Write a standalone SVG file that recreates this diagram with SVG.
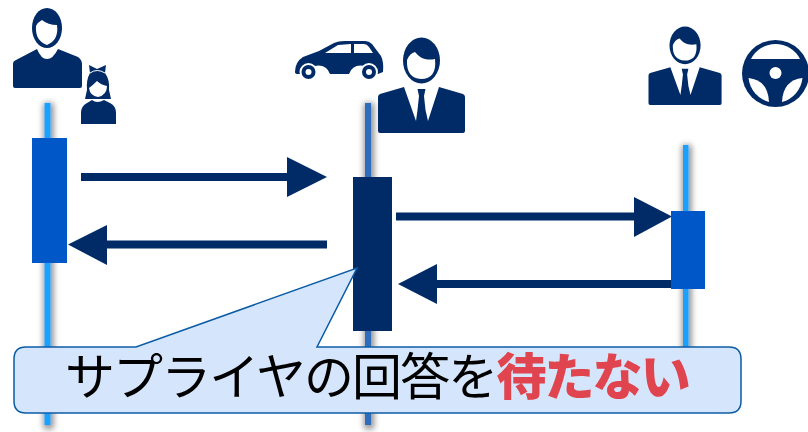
<svg xmlns="http://www.w3.org/2000/svg" width="808" height="432" viewBox="0 0 808 432">
<style>
.navy{fill:#002b66}
.w{fill:#fff}
.ll{fill:#1fa0ff;filter:url(#sh)}
.act{fill:#0058c8}
.conn{stroke:#002b66;stroke-width:8;fill:none;stroke-linecap:butt}
.txt{font-family:"Noto Sans CJK JP","Noto Sans",sans-serif;font-size:50px;letter-spacing:-1.900px}
</style>
<defs>
<filter id="sh" x="-500%" y="-5%" width="1100%" height="110%">
<feMorphology in="SourceAlpha" operator="dilate" radius="2"/>
<feGaussianBlur stdDeviation="3.200"/>
<feOffset dx="0.500" dy="2"/>
<feComponentTransfer><feFuncA type="linear" slope="0.45"/></feComponentTransfer>
<feMerge><feMergeNode/><feMergeNode in="SourceGraphic"/></feMerge>
</filter>
<g id="suit">
<path d="M0 59Q0 57 2 56L26 49L38 83L39.500 72L41 58L39.500 51L47.500 51L46 58L47.500 72L50 83L61 49L85 56Q87 57 87 59L87 93Q87 95 85 95L2 95Q0 95 0 93Z" class="navy"/>
<ellipse cx="43.500" cy="22.500" rx="18.500" ry="23" class="navy"/>
<path d="M29 22Q32 15 37 14Q42 20 47 21Q52 22 57 21Q59 41 43 41Q28 40 29 22Z" class="w"/>
</g>
</defs>
<g id="lifeline-left"><rect class="ll" x="44.500" y="103" width="6" height="322"/></g>
<g id="lifeline-middle"><rect x="365" y="103" width="6" height="322" fill="#2e6dbe" filter="url(#sh)"/></g>
<g id="lifeline-right"><rect class="ll" x="683" y="145" width="5.500" height="205"/></g>

<g id="customer">
<ellipse cx="47" cy="28" rx="15" ry="20" class="navy"/>
<path d="M36 26Q38 22 42 20Q48 25 57 25Q59 40 47 45Q35 41 36 26Z" class="w"/>
<path d="M16 60L37 49Q41 59 47 59Q53 59 58 49L78 57Q82 60 82 64L82 86Q82 88 80 88L15 88Q13 88 13 86L13 64Q13 61 16 60Z" class="navy"/>
</g>
<g id="child">
<path d="M89 65L97 69L106 65L105 73Q110 80 109 90L111 99L85 99L87 90Q86 80 90 73Z" class="navy"/>
<path d="M90 73Q97 68 105 73" fill="none" stroke="#fff" stroke-width="1"/>
<path d="M89 88Q93 85 97 81Q101 85 107 86Q107 95 98 97Q90 96 89 88Z" class="w"/>
<path d="M87 103L92 100Q97 104 104 100L110 103Q116 106 116 113L116 124L81 124L81 113Q81 106 87 103Z" class="navy"/>
</g>
<g id="car">
<path d="M295 72Q295 62 303 57L319 51L334 43Q338 41 345 41L365 41Q369 41 372 44L381 56Q384 62 383 72L378 74L372 74A12 12 0 0 0 349 74L330 74A12 12 0 0 0 307 74L298 74Q295 74 295 72Z" class="navy"/>
<path d="M325 53L338 45L351 44L351 53Z M354 44L364 44Q367 44 369 47L373 53L354 53Z" class="w"/>
<circle cx="308.500" cy="72" r="8" class="navy" stroke="#fff" stroke-width="2"/><circle cx="308.500" cy="72" r="3" class="w"/>
<circle cx="369" cy="72" r="8" class="navy" stroke="#fff" stroke-width="2"/><circle cx="369" cy="72" r="3" class="w"/>
</g>
<g id="supplier"><use href="#suit" transform="translate(378 38)"/></g>
<g id="driver"><use href="#suit" transform="translate(648.500 27) scale(0.84 0.82)"/></g>
<g id="wheel">
<circle cx="775.500" cy="73.500" r="33.500" class="navy"/>
<path d="M751 59A27.500 27.500 0 0 1 800 59Z" class="w"/>
<path d="M748.500 78Q768 80 769 102A28 28 0 0 1 748.500 78Z" class="w"/>
<path d="M802.500 78Q783 80 782 102A28 28 0 0 0 802.500 78Z" class="w"/>
<circle cx="775.500" cy="73" r="6" class="w"/>
</g>

<g id="connectors">
<path class="conn" d="M81 177H290"/><path class="navy" d="M287 157L327 177L287 197Z"/>
<path class="conn" d="M327 244.500H104"/><path class="navy" d="M107 225L68 244.500L107 265Z"/>
<path class="conn" d="M396 216.500H637"/><path class="navy" d="M634 197L672 216.500L634 237Z"/>
<path class="conn" d="M672 284H434"/><path class="navy" d="M437 264L398 284L437 304Z"/>
</g>

<g id="bar-left"><rect class="act" x="32" y="138" width="35" height="125"/></g>
<g id="bar-middle"><rect class="navy" x="353" y="177" width="39" height="154"/></g>
<g id="bar-right"><rect class="act" x="671" y="211" width="34" height="78"/></g>

<g id="callout">
<path d="M26 347H136L357 268L317 347H729Q741 347 741 359V401Q741 413 729 413H26Q14 413 14 401V359Q14 347 26 347Z" fill="#d5e6fc" stroke="#0b5ca5" stroke-width="1.500"/>
<text class="txt" x="65" y="395" fill="#000">サプライヤの回答を<tspan fill="#e0454f" font-weight="900">待たない</tspan></text>
</g>
</svg>
